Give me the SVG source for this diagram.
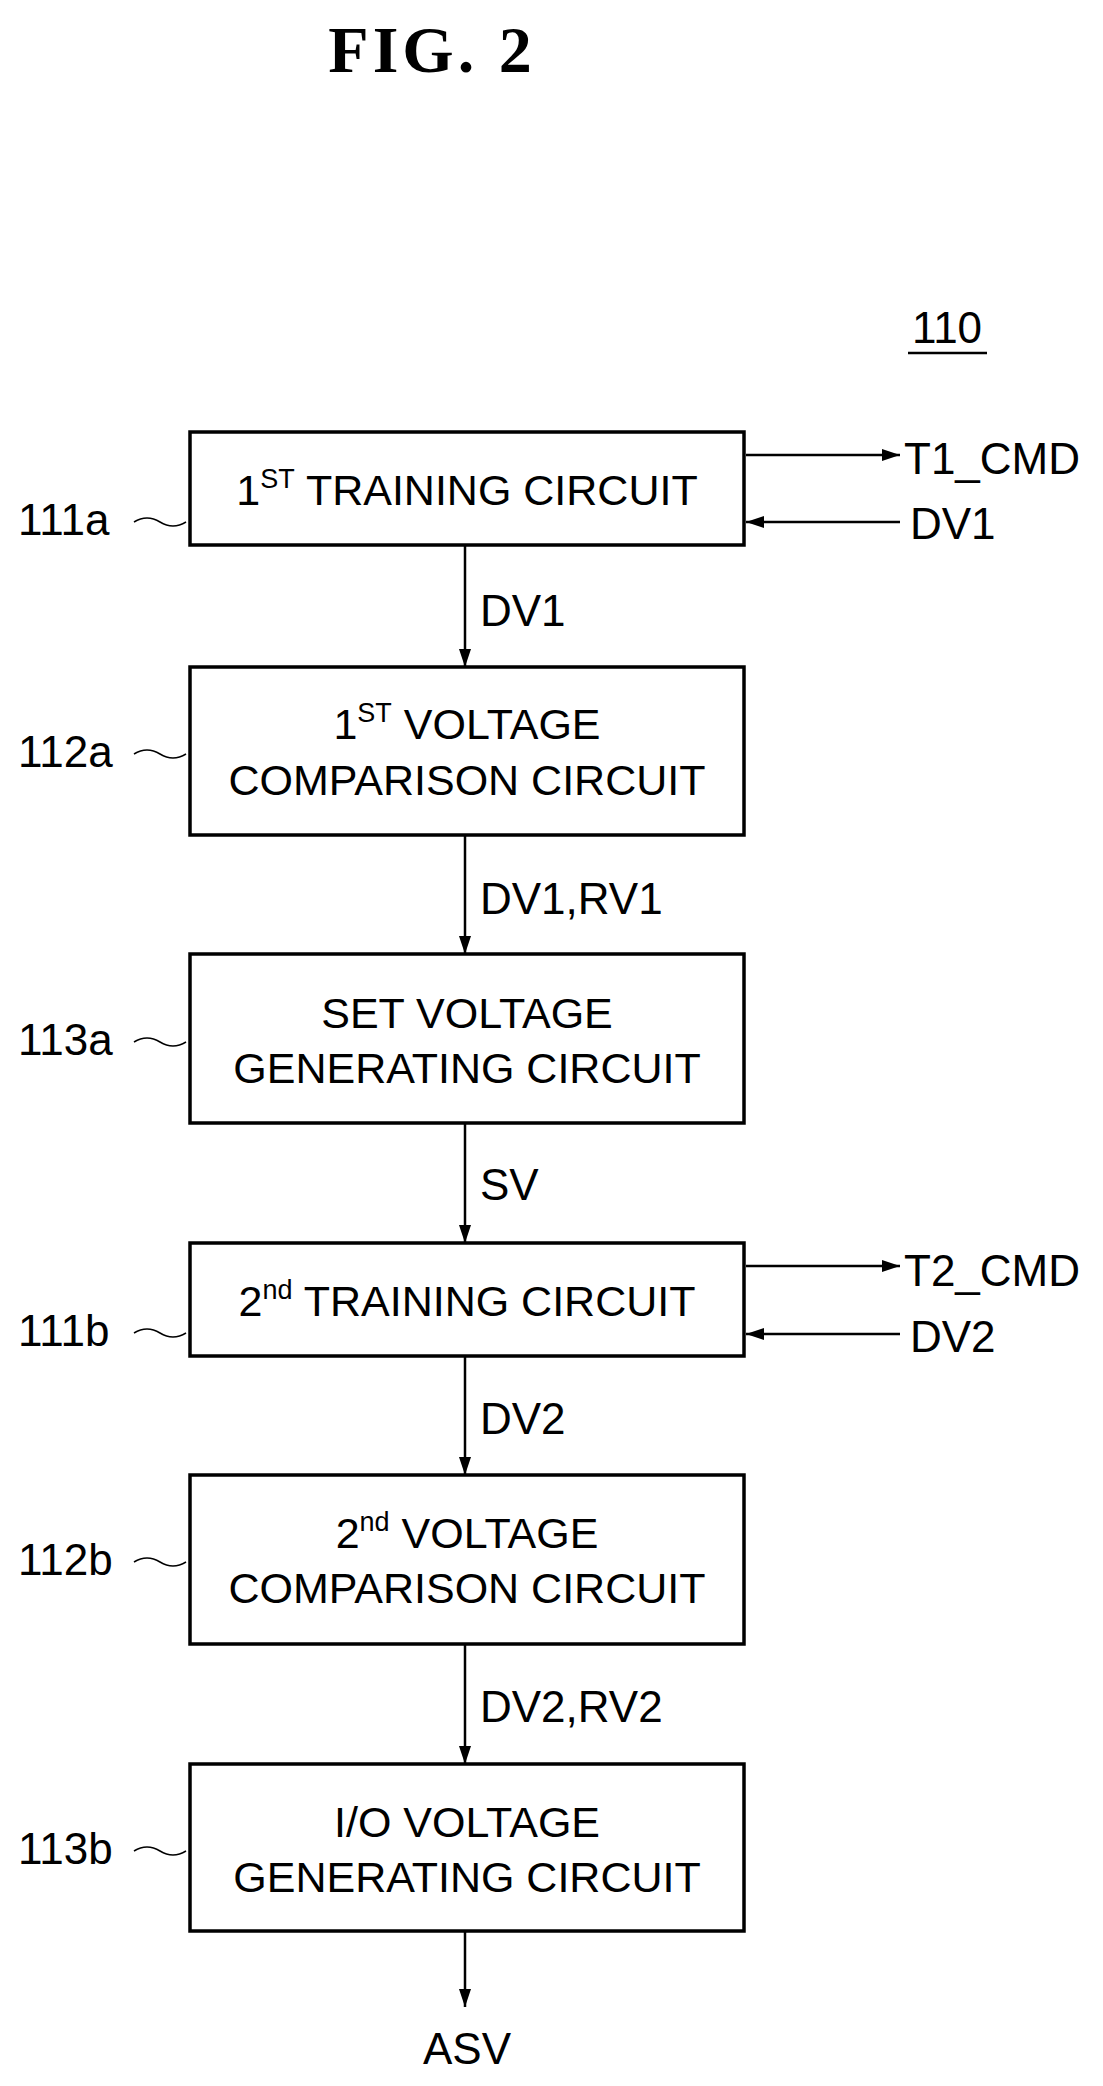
<svg xmlns="http://www.w3.org/2000/svg" width="1103" height="2086" viewBox="0 0 1103 2086">
<style>
text{font-family:"Liberation Sans",Arial,sans-serif;font-size:43px;fill:#000}
.c{text-anchor:middle}
.lab{font-size:44px}
.box{fill:#fff;stroke:#000;stroke-width:3.5}
.ln{stroke:#000;stroke-width:2.5;fill:none}
.tl{stroke:#000;stroke-width:1.5;fill:none}
.sup{font-size:27px}
</style>
<defs><marker id="a" markerWidth="18" markerHeight="12" refX="18" refY="6" orient="auto" markerUnits="userSpaceOnUse"><path d="M0,0L18,6L0,12z" fill="#000"/></marker></defs>
<rect width="1103" height="2086" fill="#fff"/>
<text x="432" y="72" class="c" style="font-family:'Liberation Serif',serif;font-size:66px;font-weight:bold;letter-spacing:4px">FIG.  2</text>
<text x="947" y="343" class="c lab">110</text>
<line x1="908" y1="353" x2="987" y2="353" class="ln"/>
<g id="n111a"><rect x="190" y="432" width="554" height="113" class="box"/><text x="467" y="505" class="c">1<tspan class="sup" dy="-17">ST</tspan><tspan dy="17"> TRAINING CIRCUIT</tspan></text><text x="18" y="535" class="lab">111a</text><path d="M134,522 q13,-8 26,0 t26,0" class="tl"/></g>
<g id="n112a"><rect x="190" y="667" width="554" height="168" class="box"/><text x="467" y="739" class="c">1<tspan class="sup" dy="-17">ST</tspan><tspan dy="17"> VOLTAGE</tspan></text><text x="467" y="795" class="c">COMPARISON CIRCUIT</text><text x="18" y="767" class="lab">112a</text><path d="M134,754 q13,-8 26,0 t26,0" class="tl"/></g>
<g id="n113a"><rect x="190" y="954" width="554" height="169" class="box"/><text x="467" y="1028" class="c">SET VOLTAGE</text><text x="467" y="1083" class="c">GENERATING CIRCUIT</text><text x="18" y="1055" class="lab">113a</text><path d="M134,1042 q13,-8 26,0 t26,0" class="tl"/></g>
<g id="n111b"><rect x="190" y="1243" width="554" height="113" class="box"/><text x="467" y="1316" class="c">2<tspan class="sup" dy="-17">nd</tspan><tspan dy="17"> TRAINING CIRCUIT</tspan></text><text x="18" y="1346" class="lab">111b</text><path d="M134,1333 q13,-8 26,0 t26,0" class="tl"/></g>
<g id="n112b"><rect x="190" y="1475" width="554" height="169" class="box"/><text x="467" y="1548" class="c">2<tspan class="sup" dy="-17">nd</tspan><tspan dy="17"> VOLTAGE</tspan></text><text x="467" y="1603" class="c">COMPARISON CIRCUIT</text><text x="18" y="1575" class="lab">112b</text><path d="M134,1562 q13,-8 26,0 t26,0" class="tl"/></g>
<g id="n113b"><rect x="190" y="1764" width="554" height="167" class="box"/><text x="467" y="1837" class="c">I/O VOLTAGE</text><text x="467" y="1892" class="c">GENERATING CIRCUIT</text><text x="18" y="1864" class="lab">113b</text><path d="M134,1851 q13,-8 26,0 t26,0" class="tl"/></g>
<g id="connectors">
<line x1="746" y1="455" x2="900" y2="455" class="ln" marker-end="url(#a)"/>
<line x1="900" y1="522" x2="746" y2="522" class="ln" marker-end="url(#a)"/>
<line x1="465" y1="545" x2="465" y2="667" class="ln" marker-end="url(#a)"/>
<line x1="465" y1="835" x2="465" y2="954" class="ln" marker-end="url(#a)"/>
<line x1="465" y1="1123" x2="465" y2="1243" class="ln" marker-end="url(#a)"/>
<line x1="746" y1="1266" x2="900" y2="1266" class="ln" marker-end="url(#a)"/>
<line x1="900" y1="1334" x2="746" y2="1334" class="ln" marker-end="url(#a)"/>
<line x1="465" y1="1356" x2="465" y2="1475" class="ln" marker-end="url(#a)"/>
<line x1="465" y1="1644" x2="465" y2="1764" class="ln" marker-end="url(#a)"/>
<line x1="465" y1="1931" x2="465" y2="2007" class="ln" marker-end="url(#a)"/>
</g>
<text x="904" y="474" class="lab">T1_CMD</text>
<text x="910" y="539" class="lab">DV1</text>
<text x="480" y="626" class="lab">DV1</text>
<text x="480" y="914" class="lab">DV1,RV1</text>
<text x="480" y="1200" class="lab">SV</text>
<text x="904" y="1286" class="lab">T2_CMD</text>
<text x="910" y="1352" class="lab">DV2</text>
<text x="480" y="1434" class="lab">DV2</text>
<text x="480" y="1722" class="lab">DV2,RV2</text>
<text x="467" y="2064" class="c lab">ASV</text>
</svg>
